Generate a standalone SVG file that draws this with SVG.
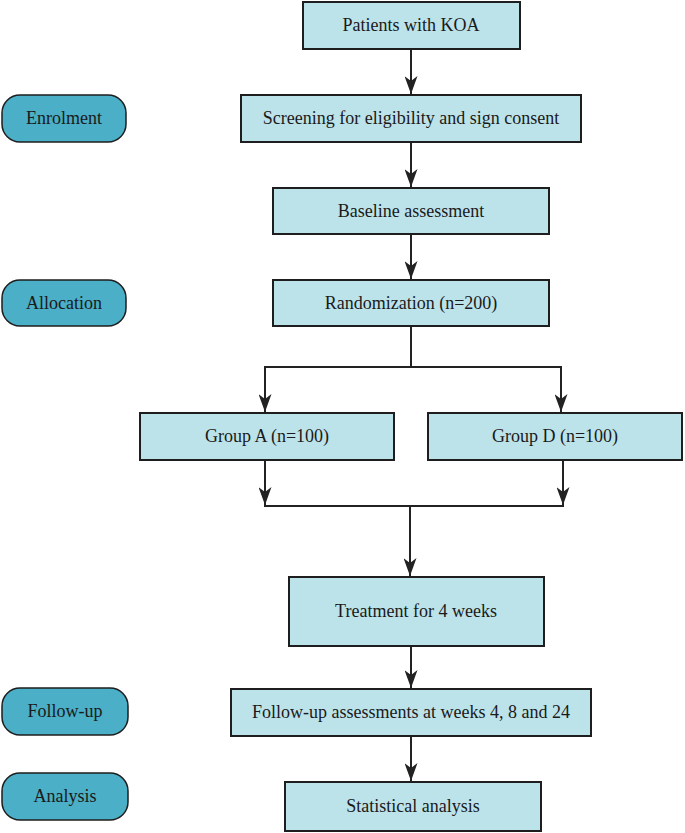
<svg xmlns="http://www.w3.org/2000/svg" width="685" height="833" viewBox="0 0 685 833">
<style>
.box{fill:#bde3ea;stroke:#1e1e1e;stroke-width:2}
.pill{fill:#4aafc7;stroke:#1e1e1e;stroke-width:1.5}
.t{font-family:"Liberation Serif","Times New Roman",serif;font-size:18px;fill:#1a1a1a;text-anchor:middle;dominant-baseline:central}
.c{fill:none;stroke:#222;stroke-width:2}
</style>
<defs>
<marker id="ah" markerWidth="18" markerHeight="13" refX="18" refY="6.5" orient="auto" markerUnits="userSpaceOnUse" viewBox="0 0 18 13">
<path d="M0,0 L18,6.5 L0,13 L5,6.5 Z" fill="#222"/>
</marker>
</defs>
<rect width="685" height="833" fill="#fff"/>
<g id="connectors">
<path class="c" d="M411,49 V94" marker-end="url(#ah)"/>
<path class="c" d="M411,142 V187" marker-end="url(#ah)"/>
<path class="c" d="M411,234 V279" marker-end="url(#ah)"/>
<path class="c" d="M411,326 V367"/>
<path class="c" d="M264,367 H562"/>
<path class="c" d="M265,366 V412" marker-end="url(#ah)"/>
<path class="c" d="M561,366 V412" marker-end="url(#ah)"/>
<path class="c" d="M265,460 V505" marker-end="url(#ah)"/>
<path class="c" d="M563,460 V505" marker-end="url(#ah)"/>
<path class="c" d="M264,506 H564"/>
<path class="c" d="M410,506 V576" marker-end="url(#ah)"/>
<path class="c" d="M411,646 V688" marker-end="url(#ah)"/>
<path class="c" d="M411,736 V781" marker-end="url(#ah)"/>
</g>
<g id="n-patients"><rect class="box" x="303" y="2" width="217" height="47"/><text class="t" x="411" y="25">Patients with KOA</text></g>
<g id="n-screening"><rect class="box" x="241" y="95" width="340" height="47"/><text class="t" x="411" y="118">Screening for eligibility and sign consent</text></g>
<g id="n-baseline"><rect class="box" x="273" y="188" width="276" height="46"/><text class="t" x="411" y="211">Baseline assessment</text></g>
<g id="n-random"><rect class="box" x="273" y="280" width="276" height="46"/><text class="t" x="411" y="303">Randomization (n=200)</text></g>
<g id="n-groupA"><rect class="box" x="140" y="413" width="254" height="47"/><text class="t" x="267" y="436">Group A (n=100)</text></g>
<g id="n-groupD"><rect class="box" x="428" y="413" width="254" height="47"/><text class="t" x="555" y="436">Group D (n=100)</text></g>
<g id="n-treatment"><rect class="box" x="289" y="577" width="255" height="69"/><text class="t" x="416" y="611">Treatment for 4 weeks</text></g>
<g id="n-followup"><rect class="box" x="231" y="689" width="360" height="47"/><text class="t" x="411" y="712">Follow-up assessments at weeks 4, 8 and 24</text></g>
<g id="n-stat"><rect class="box" x="285" y="782" width="256" height="49"/><text class="t" x="413" y="806">Statistical analysis</text></g>
<g id="p-enrol"><rect class="pill" x="2" y="95" width="124" height="47" rx="18"/><text class="t" x="64" y="118">Enrolment</text></g>
<g id="p-alloc"><rect class="pill" x="2" y="280" width="124" height="46" rx="18"/><text class="t" x="64" y="303">Allocation</text></g>
<g id="p-follow"><rect class="pill" x="2" y="688" width="126" height="47" rx="18"/><text class="t" x="65" y="711">Follow-up</text></g>
<g id="p-analysis"><rect class="pill" x="2" y="773" width="126" height="47" rx="18"/><text class="t" x="65" y="796">Analysis</text></g>
</svg>
